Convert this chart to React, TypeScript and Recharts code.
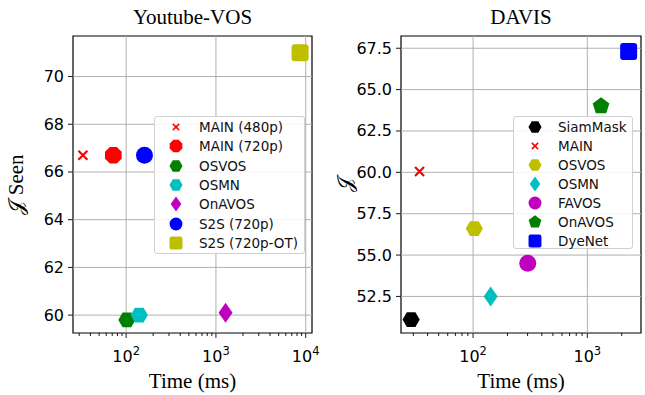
import React from "react";
import { ScatterChart, Scatter, XAxis, YAxis, ReferenceLine, ReferenceArea, Legend } from "recharts";

// Youtube-VOS panel
const ytNames = ["MAIN (480p)", "MAIN (720p)", "OSVOS", "OSMN", "OnAVOS", "S2S (720p)", "S2S (720p-OT)"];
const ytTime = [33, 72, 102, 140, 1280, 160, 8650];
const ytScore = [66.7, 66.7, 59.8, 60.0, 60.1, 66.7, 71.0];
const ytColors = ["#ff0000", "#ff0000", "#008000", "#00bfbf", "#bf00bf", "#0000ff", "#bfbf00"];
const ytMarkers = ["x", "octagon", "hexagon", "hexagon", "thinDiamond", "circle", "square"];
const ytYTicks = [60, 62, 64, 66, 68, 70];
const ytXMajor = [100, 1000, 10000];
const ytXMinor = [30, 40, 50, 60, 70, 80, 90, 200, 300, 400, 500, 600, 700, 800, 900, 2000, 3000, 4000, 5000, 6000, 7000, 8000, 9000];

// DAVIS panel
const dvNames = ["SiamMask", "MAIN", "OSVOS", "OSMN", "FAVOS", "OnAVOS", "DyeNet"];
const dvTime = [28.7, 34, 102.6, 142.6, 301, 1318, 2300];
const dvScore = [51.1, 60.05, 56.6, 52.5, 54.5, 64.0, 67.3];
const dvColors = ["#000000", "#ff0000", "#bfbf00", "#00bfbf", "#bf00bf", "#008000", "#0000ff"];
const dvMarkers = ["hexagon", "x", "hexagon", "thinDiamond", "circle", "pentagon", "square"];
const dvYTicks = [52.5, 55, 57.5, 60, 62.5, 65, 67.5];
const dvXMajor = [100, 1000];
const dvXMinor = [30, 40, 50, 60, 70, 80, 90, 200, 300, 400, 500, 600, 700, 800, 900, 2000];

const SANS = "'DejaVu Sans', sans-serif";
const SERIF = "'Liberation Serif', 'DejaVu Serif', serif";
const GRID = "#b0b0b0";

function poly(cx: number, cy: number, r: number, n: number, rot: number) {
  const pts: string[] = [];
  for (let i = 0; i < n; i++) {
    const a = rot + (i * 2 * Math.PI) / n;
    pts.push(`${cx + r * Math.cos(a)},${cy + r * Math.sin(a)}`);
  }
  return pts.join(" ");
}

function Marker({ kind, cx, cy, color, s = 1 }: { kind: string; cx: number; cy: number; color: string; s?: number }) {
  switch (kind) {
    case "x": {
      const d = 4.5 * s;
      return (
        <path d={`M${cx - d},${cy - d}L${cx + d},${cy + d}M${cx - d},${cy + d}L${cx + d},${cy - d}`}
          stroke={color} strokeWidth={2.2 * s} fill="none" />
      );
    }
    case "circle":
      return <circle cx={cx} cy={cy} r={8.5 * s} fill={color} />;
    case "octagon":
      return <polygon points={poly(cx, cy, 9 * s, 8, Math.PI / 8)} fill={color} />;
    case "hexagon":
      return <polygon points={poly(cx, cy, 8.6 * s, 6, 0)} fill={color} />;
    case "pentagon":
      return <polygon points={poly(cx, cy, 8.8 * s, 5, -Math.PI / 2)} fill={color} />;
    case "thinDiamond": {
      const w = 7 * s, h = 10 * s;
      return <polygon points={`${cx},${cy - h} ${cx + w},${cy} ${cx},${cy + h} ${cx - w},${cy}`} fill={color} />;
    }
    case "square": {
      const h = 8.5 * s;
      return <rect x={cx - h} y={cy - h} width={2 * h} height={2 * h} rx={3 * s} fill={color} />;
    }
  }
  return null;
}

function XTick(props: any) {
  const { x, y, payload, majors } = props;
  const major = majors.includes(payload.value);
  const exp = Math.round(Math.log10(payload.value));
  return (
    <g>
      <line x1={x} x2={x} y1={y} y2={y + (major ? 5 : 3)} stroke="#000" strokeWidth={0.9} />
      {major && (
        <text x={x} y={y + 29} textAnchor="middle" fontFamily={SANS} fontSize={16} fill="#000">
          10<tspan dy={-7} fontSize={11.5}>{exp}</tspan>
        </text>
      )}
    </g>
  );
}

function YTick(props: any) {
  const { x, y, payload, digits } = props;
  return (
    <g>
      <line x1={x - 5} x2={x} y1={y} y2={y} stroke="#000" strokeWidth={0.9} />
      <text x={x - 9} y={y} textAnchor="end" dominantBaseline="central" fontFamily={SANS} fontSize={16} fill="#000">
        {payload.value.toFixed(digits)}
      </text>
    </g>
  );
}

function LegendBox({ names, colors, markers, width, height, rowH }: any) {
  return (
    <div style={{
      width, height, boxSizing: "border-box", background: "rgba(255,255,255,0.85)",
      border: "1px solid #d0d0d0", borderRadius: 3, position: "relative",
    }}>
      {names.map((n: string, i: number) => (
        <div key={n} style={{ position: "absolute", left: 0, top: 9.7 + i * rowH - 10, height: 20, width: "100%" }}>
          <svg width={24} height={20} style={{ position: "absolute", left: 9, top: 0 }}>
            <Marker kind={markers[i]} cx={12} cy={10} color={colors[i]} s={markers[i] === "x" ? 0.7 : 0.76} />
          </svg>
          <span style={{
            position: "absolute", left: 44, top: 0, lineHeight: "20px", fontFamily: SANS,
            fontSize: 13.5, color: "#111", whiteSpace: "nowrap",
          }}>{n}</span>
        </div>
      ))}
    </div>
  );
}

function Panel(p: {
  title: string; yLabel: string; names: string[]; time: number[]; score: number[]; colors: string[];
  markers: string[]; yTicks: number[]; xMajor: number[]; xMinor: number[]; xDomain: [number, number];
  yDomain: [number, number]; digits: number; width: number; yAxisW: number; right: number; yLabelX: number;
  legendPos: { left: number; top: number; width: number; height: number; rowH: number };
}) {
  const xTicks = [...p.xMinor, ...p.xMajor].sort((a, b) => a - b);
  const plotL = p.yAxisW;
  const plotR = p.width - p.right;
  return (
    <div style={{ position: "relative", width: p.width, height: 395 }}>
      <div style={{
        position: "absolute", left: plotL, width: plotR - plotL, top: 4, textAlign: "center",
        fontFamily: SERIF, fontSize: 21, lineHeight: "26px", color: "#000",
      }}>{p.title}</div>
      <ScatterChart width={p.width} height={395} margin={{ top: 36, right: p.right, bottom: 0, left: 0 }}>
        <XAxis type="number" dataKey="x" scale="log" domain={p.xDomain} allowDataOverflow ticks={xTicks}
          interval={0} tickSize={0} tickMargin={0} axisLine={false} height={62}
          tick={<XTick majors={p.xMajor} />}
          label={{
            content: (lp: any) => {
              const vb = lp.viewBox;
              return (
                <text x={vb.x + vb.width / 2} y={vb.y + 48} textAnchor="middle" dominantBaseline="central"
                  fontFamily={SERIF} fontSize={21} fill="#000">Time (ms)</text>
              );
            },
          }} />
        <YAxis type="number" dataKey="y" domain={p.yDomain} allowDataOverflow ticks={p.yTicks} interval={0}
          tickSize={0} tickMargin={0} axisLine={false} width={p.yAxisW}
          tick={<YTick digits={p.digits} />}
          label={{
            content: (lp: any) => {
              const vb = lp.viewBox;
              const cx = vb.x + p.yLabelX;
              const cy = vb.y + vb.height / 2;
              return (
                <text transform={`translate(${cx},${cy}) rotate(-90)`} textAnchor="middle" dominantBaseline="central"
                  fontFamily={SERIF} fontSize={21} fill="#000">{p.yLabel}</text>
              );
            },
          }} />
        {p.xMajor.map((v) => (
          <ReferenceLine key={"gx" + v} x={v} stroke={GRID} strokeWidth={1} ifOverflow="hidden" />
        ))}
        {p.yTicks.map((v) => (
          <ReferenceLine key={"gy" + v} y={v} stroke={GRID} strokeWidth={1} />
        ))}
        {p.names.map((n, i) => (
          <Scatter key={n} name={n} data={[{ x: p.time[i], y: p.score[i] }]} fill={p.colors[i]}
            isAnimationActive={false}
            shape={(sp: any) => <Marker kind={p.markers[i]} cx={sp.cx} cy={sp.cy} color={p.colors[i]} />} />
        ))}
        <ReferenceArea x1={p.xDomain[0]} x2={p.xDomain[1]} y1={p.yDomain[0]} y2={p.yDomain[1]}
          fill="none" fillOpacity={0} stroke="#000" strokeWidth={1.2} ifOverflow="visible" />
        <Legend layout="vertical" align="center" verticalAlign="middle"
          wrapperStyle={{ left: p.legendPos.left, top: p.legendPos.top, width: p.legendPos.width }}
          content={() => (
            <LegendBox names={p.names} colors={p.colors} markers={p.markers}
              width={p.legendPos.width} height={p.legendPos.height} rowH={p.legendPos.rowH} />
          )} />
      </ScatterChart>
    </div>
  );
}

export default function App() {
  return (
    <div style={{ position: "absolute", left: 0, top: 0, width: 645, height: 395, background: "#fff" }}>
      <div style={{ position: "absolute", left: 0, top: 0 }}>
        <Panel title="Youtube-VOS" yLabel="𝒥 Seen" names={ytNames} time={ytTime} score={ytScore}
          colors={ytColors} markers={ytMarkers} yTicks={ytYTicks} xMajor={ytXMajor} xMinor={ytXMinor}
          xDomain={[25.6, 11750]} yDomain={[59.25, 71.7]} digits={0} width={330} yAxisW={73} right={18}
          yLabelX={16}
          legendPos={{ left: 154, top: 116, width: 151, height: 138, rowH: 19.4 }} />
      </div>
      <div style={{ position: "absolute", left: 330, top: 0 }}>
        <Panel title="DAVIS" yLabel="𝒥" names={dvNames} time={dvTime} score={dvScore}
          colors={dvColors} markers={dvMarkers} yTicks={dvYTicks} xMajor={dvXMajor} xMinor={dvXMinor}
          xDomain={[23.4, 2950]} yDomain={[50.29, 68.24]} digits={1} width={315} yAxisW={71} right={4}
          yLabelX={15}
          legendPos={{ left: 183, top: 116, width: 120, height: 133, rowH: 19.1 }} />
      </div>
    </div>
  );
}
